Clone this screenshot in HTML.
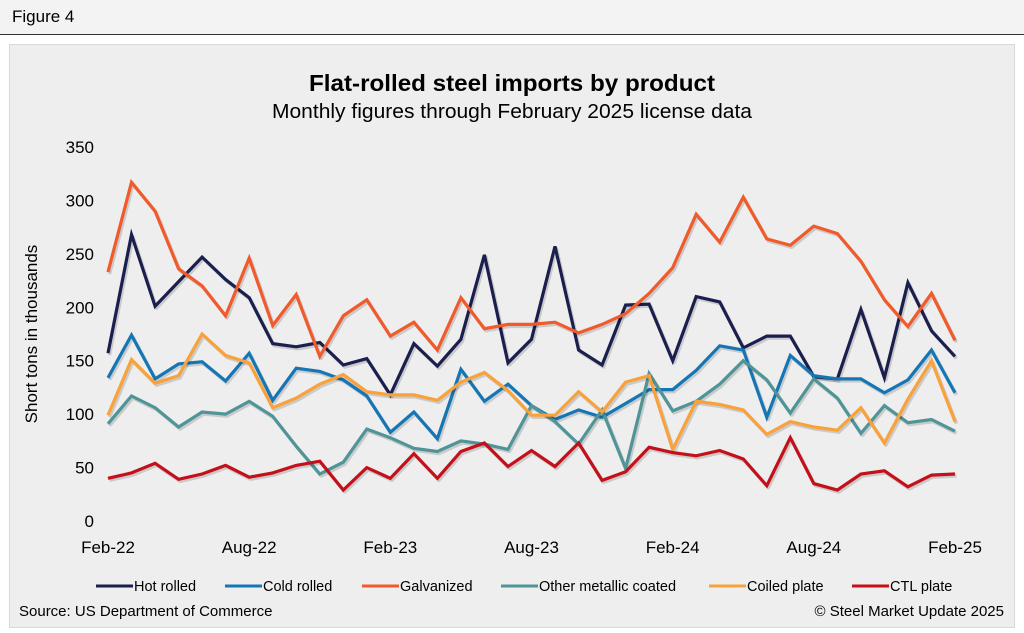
<!DOCTYPE html>
<html><head><meta charset="utf-8"><style>
body{margin:0;width:1024px;height:633px;background:#fff;font-family:"Liberation Sans",Arial,sans-serif;overflow:hidden;position:relative}
#hdr{position:absolute;left:0;top:0;width:1024px;height:34px;background:#f3f3f3;border-bottom:1px solid #333}
#hdr span{position:absolute;left:12px;top:7px;font-size:17px;color:#000}
#card{position:absolute;left:9px;top:44px;width:1004px;height:582px;background:#eeeeee;border:1px solid #d8d8d8}
svg{position:absolute;left:0;top:0}
</style></head><body>
<div id="hdr"><span>Figure 4</span></div>
<div id="card"></div>
<svg id="chart" width="1024" height="633"></svg>
<script>
const categories=["Feb-22","Mar-22","Apr-22","May-22","Jun-22","Jul-22","Aug-22","Sep-22","Oct-22","Nov-22","Dec-22","Jan-23","Feb-23","Mar-23","Apr-23","May-23","Jun-23","Jul-23","Aug-23","Sep-23","Oct-23","Nov-23","Dec-23","Jan-24","Feb-24","Mar-24","Apr-24","May-24","Jun-24","Jul-24","Aug-24","Sep-24","Oct-24","Nov-24","Dec-24","Jan-25","Feb-25"];
const hotRolled=[157,268,201,224,247,226,209,166,163,167,146,152,118,166,145,170,249,148,170,257,160,146,202,203,150,210,205,162,173,173,135,133,198,134,223,178,154];
const coldRolled=[134,174,133,147,149,131,157,113,143,140,132,117,83,102,77,142,112,128,108,95,104,97,110,123,123,141,164,160,97,155,136,133,133,120,132,160,120];
const galvanized=[233,317,290,236,220,192,246,183,212,154,192,207,173,186,160,209,180,184,184,186,176,184,194,213,237,287,261,303,264,258,276,269,243,207,182,213,169];
const otherCoated=[91,117,106,88,102,100,112,98,70,44,55,86,78,68,65,75,72,67,108,93,72,104,49,138,103,112,128,150,132,101,133,115,82,108,92,95,84];
const coiledPlate=[99,151,129,136,175,155,148,106,115,128,137,121,118,118,113,130,139,122,99,99,121,102,130,136,67,112,109,104,81,93,88,85,106,73,114,150,93];
const ctlPlate=[40,45,54,39,44,52,41,45,52,56,29,50,40,63,40,65,73,51,66,51,73,38,46,69,64,61,66,58,33,78,35,29,44,47,32,43,44];
const yTicks=[0,50,100,150,200,250,300,350];
const xTickIdx=[0,6,12,18,24,30,36];
const seriesNames=["Hot rolled","Cold rolled","Galvanized","Other metallic coated","Coiled plate","CTL plate"];
const seriesData=[hotRolled,coldRolled,galvanized,otherCoated,coiledPlate,ctlPlate];
const colors=["#1a1f4e","#1576b5","#f15a2b","#4f9598","#f9a13a","#c4101a"];
const seriesKeys=["hot-rolled","cold-rolled","galvanized","other-metallic-coated","coiled-plate","ctl-plate"];

const svg=document.getElementById('chart');
const NS='http://www.w3.org/2000/svg';
const X0=108,X1=955,Y0=521,Y1=147,YMAX=350;
const xs=i=>X0+(X1-X0)*i/(categories.length-1);
const ys=v=>Y0-(Y0-Y1)*v/YMAX;
function mk(tag,attrs,text){const e=document.createElementNS(NS,tag);for(const k in attrs)e.setAttribute(k,attrs[k]);if(text!=null)e.textContent=text;svg.appendChild(e);return e;}

const t1=mk('text',{x:512,y:91,'text-anchor':'middle','font-size':23,'font-weight':'bold',fill:'#000',textLength:406,lengthAdjust:'spacingAndGlyphs'},'Flat-rolled steel imports by product');


const t2=mk('text',{x:512,y:118,'text-anchor':'middle','font-size':20,fill:'#000',textLength:480,lengthAdjust:'spacingAndGlyphs'},'Monthly figures through February 2025 license data');


const yt=mk('text',{x:37,y:334,'text-anchor':'middle','font-size':17,fill:'#000',transform:'rotate(-90 37 334)'},'Short tons in thousands');



yTicks.forEach(v=>{
  const t=mk('text',{x:94,y:ys(v)+6,'text-anchor':'end','font-size':17,fill:'#000'},String(v));
  
  
});
xTickIdx.forEach(i=>{
  const t=mk('text',{x:xs(i),y:553,'text-anchor':'middle','font-size':17,fill:'#000'},categories[i]);
  
  
});

seriesData.forEach((d,s)=>{
  const pts=d.map((v,i)=>xs(i).toFixed(1)+','+ys(v).toFixed(1)).join(' ');
  const sh=mk('polyline',{points:pts,fill:'none',stroke:'rgba(0,0,0,0.15)','stroke-width':3.5,transform:'translate(1.5,2)','stroke-linejoin':'round'});
  
  
  const p=mk('polyline',{points:pts,fill:'none',stroke:colors[s],'stroke-width':3.2,'stroke-linejoin':'miter'});
  
  
});

const legX=[96,225,362,501,709,852];
seriesNames.forEach((n,s)=>{
  const l=mk('line',{x1:legX[s],y1:586,x2:legX[s]+37,y2:586,stroke:colors[s],'stroke-width':3});
  
  
  const t=mk('text',{x:legX[s]+38,y:591,'font-size':14.5,fill:'#000'},n);
  
  
});
const src=mk('text',{x:19,y:616,'font-size':15,fill:'#000'},'Source: US Department of Commerce');


const cr=mk('text',{x:1004,y:616,'text-anchor':'end','font-size':15,fill:'#000'},'© Steel Market Update 2025');


</script>
</body></html>
